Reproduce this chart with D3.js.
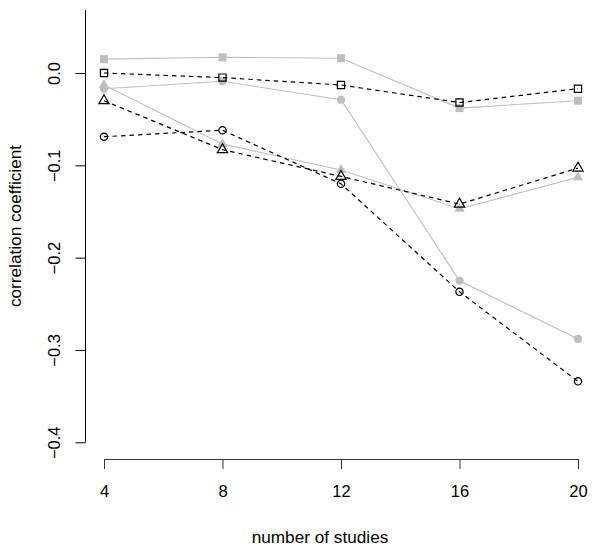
<!DOCTYPE html>
<html>
<head>
<meta charset="utf-8">
<script src="https://cdn.jsdelivr.net/npm/d3@7"></script>
<style>
  body { margin: 0; background: #fff; }
  svg text { font-family: "Liberation Sans", Arial, Helvetica, sans-serif; font-size: 16.5px; fill: #000; }
  svg text.title { font-size: 17.2px; }
</style>
</head>
<body>
<div id="chart-area"></div>
<script>
// number of studies on x
var studies = [4, 8, 12, 16, 20];
var yTicks = [-0.4, -0.3, -0.2, -0.1, 0.0];

// grey solid series (filled symbols)
var greyCircle   = [-0.017, -0.009, -0.029, -0.225, -0.288];
var greyTriangle = [-0.013, -0.077, -0.105, -0.147, -0.113];
var greySquare   = [ 0.015,  0.017,  0.016, -0.038, -0.030];

// black dashed series (open symbols)
var openSquare   = [ 0.000, -0.005, -0.013, -0.032, -0.017];
var openTriangle = [-0.030, -0.083, -0.112, -0.142, -0.103];
var openCircle   = [-0.069, -0.062, -0.120, -0.237, -0.334];

var width = 600, height = 553;

var svg = d3.select("#chart-area").append("svg")
	.attr("width", width)
	.attr("height", height);

var x = d3.scaleLinear().domain([4, 20]).range([104, 578]);
var y = d3.scaleLinear().domain([-0.4, 0]).range([442.3, 73]);

// axes
var xAxis = svg.append("g")
	.attr("transform", "translate(0,459)")
	.call(d3.axisBottom(x).tickValues(studies).tickSize(10).tickSizeOuter(0));
xAxis.select(".domain").attr("stroke", "#333");
xAxis.selectAll(".tick line").attr("stroke", "#333");
xAxis.selectAll("text").attr("font-size", null).attr("dy", null).attr("y", 37.5);

var yAxis = svg.append("g")
	.attr("transform", "translate(85.5,0)")
	.call(d3.axisLeft(y).tickValues(yTicks).tickSize(10).tickSizeOuter(0)
		.tickFormat(function(d){ return d3.format(".1f")(d); }));
yAxis.select(".domain").attr("d", "M0," + y(-0.4) + "V10").attr("stroke", "#000");
yAxis.selectAll(".tick line").attr("stroke", "#000");
yAxis.selectAll("text")
	.attr("font-size", null)
	.attr("x", null).attr("dy", null)
	.attr("text-anchor", "middle")
	.attr("transform", "translate(-25.5,0) rotate(-90)");

// axis titles
svg.append("text")
	.attr("class", "title")
	.attr("x", 320).attr("y", 543)
	.attr("text-anchor", "middle")
	.text("number of studies");

svg.append("text")
	.attr("class", "title")
	.attr("transform", "translate(21,226) rotate(-90)")
	.attr("text-anchor", "middle")
	.text("correlation coefficient");

function drawSeries(values, opts) {
	var pts = studies.map(function(s, i){ return [x(s), y(values[i])]; });
	svg.append("path")
		.attr("d", d3.line()(pts))
		.attr("fill", "none")
		.attr("stroke", opts.color)
		.attr("stroke-width", opts.dash ? 1.2 : 1.1)
		.attr("stroke-dasharray", opts.dash || null);
	svg.selectAll(null)
		.data(pts)
		.enter()
		.append("path")
			.attr("transform", function(d){ return "translate(" + d[0] + "," + d[1] + ")"; })
			.attr("d", d3.symbol().type(opts.symbol).size(opts.size))
			.attr("fill", opts.filled ? opts.color : "none")
			.attr("stroke", opts.filled ? "none" : opts.color)
			.attr("stroke-width", 1.2);
}

var grey = "#bebebe";
drawSeries(greySquare,   { color: grey, symbol: d3.symbolSquare,   size: 64, filled: true });
drawSeries(greyCircle,   { color: grey, symbol: d3.symbolCircle,   size: 52, filled: true });
drawSeries(greyTriangle, { color: grey, symbol: d3.symbolTriangle, size: 46, filled: true });

drawSeries(openSquare,   { color: "#000", symbol: d3.symbolSquare,   size: 52, dash: "4.5,4" });
drawSeries(openCircle,   { color: "#000", symbol: d3.symbolCircle,   size: 42, dash: "4.5,4" });
drawSeries(openTriangle, { color: "#000", symbol: d3.symbolTriangle, size: 46, dash: "4.5,4" });
</script>
</body>
</html>
